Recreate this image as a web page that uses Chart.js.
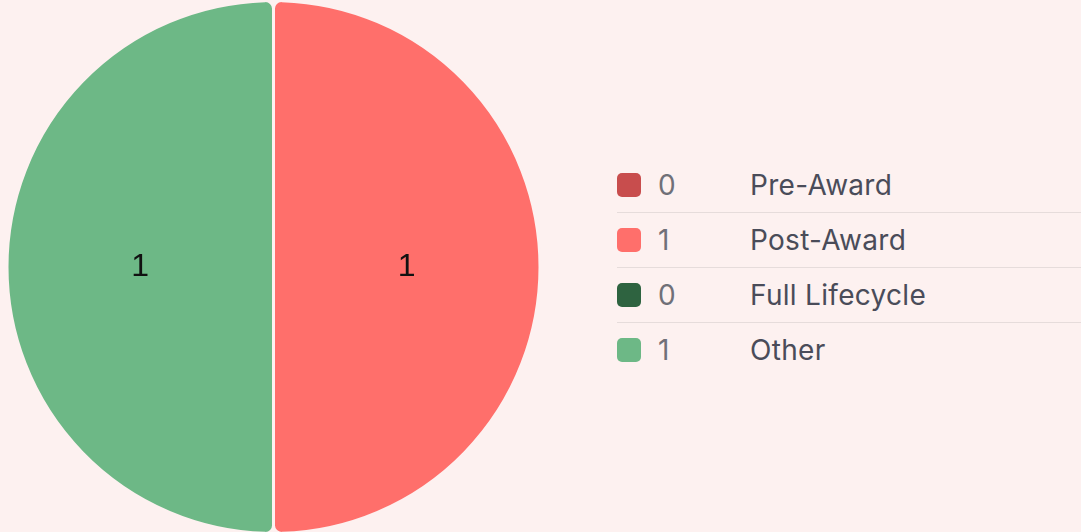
<!DOCTYPE html>
<html>
<head>
<meta charset="utf-8">
<script src="https://cdn.jsdelivr.net/npm/chart.js@4/dist/chart.umd.min.js"></script>
<style>
  html, body { margin: 0; padding: 0; background: #fdf1f0; }
  body { width: 1081px; height: 532px; position: relative; overflow: hidden; }
  #chartBox { position: absolute; left: 0; top: -1px; width: 547px; height: 536px; }
  #legend { position: absolute; left: 617px; top: 158px; right: 0; font-family: Inter, sans-serif; font-size: 28px; letter-spacing: 0.3px; }
  .row { height: 54px; display: flex; align-items: center; border-bottom: 1px solid #e6dcdb; }
  .row:last-child { border-bottom: none; }
  .sw { width: 24px; height: 24px; border-radius: 5px; flex: none; }
  .val { width: 92px; margin-left: 17px; color: #707078; }
  .lab { color: #4a4c59; }
</style>
</head>
<body>
<div id="chartBox"><canvas id="pieChart"></canvas></div>
<div id="legend"></div>
<script>
    "use strict";

    const categories = ['Pre-Award', 'Post-Award', 'Full Lifecycle', 'Other'];
    const counts = [0, 1, 0, 1];
    const colors = ['#c84d4d', '#ff6f6b', '#2e6340', '#6db886'];

    // legend on the right, built from the same arrays
    let legend = document.getElementById('legend');
    categories.forEach((name, i) => {
        let row = document.createElement('div');
        row.className = 'row';
        row.innerHTML = '<span class="sw" style="background:' + colors[i] + '"></span>' +
            '<span class="val">' + counts[i] + '</span><span class="lab">' + name + '</span>';
        legend.appendChild(row);
    });

    // value in the middle of each slice
    const sliceLabels = {
        id: 'sliceLabels',
        afterDatasetsDraw(chart) {
            let ctx = chart.ctx;
            let meta = chart.getDatasetMeta(0);
            ctx.save();
            ctx.font = '32px "Liberation Sans", Arial, sans-serif';
            ctx.fillStyle = '#111';
            ctx.textAlign = 'center';
            ctx.textBaseline = 'middle';
            meta.data.forEach((arc, i) => {
                let v = chart.data.datasets[0].data[i];
                if (!v) return;
                let p = arc.tooltipPosition();
                ctx.fillText(String(v), p.x, p.y);
            });
            ctx.restore();
        }
    };

    var ctx = document.getElementById('pieChart');
    var chart = new Chart(ctx, {
        type: 'pie',
        data: {
            labels: categories,
            datasets: [{
                data: counts,
                backgroundColor: colors,
                borderColor: '#fdf1f0',
                borderWidth: 3,
                borderRadius: 8
            }]
        },
        options: {
            responsive: true,
            maintainAspectRatio: false,
            animation: false,
            layout: { padding: 0 },
            plugins: {
                legend: { display: false },
                tooltip: { enabled: false }
            }
        },
        plugins: [sliceLabels]
    });
</script>
</body>
</html>
